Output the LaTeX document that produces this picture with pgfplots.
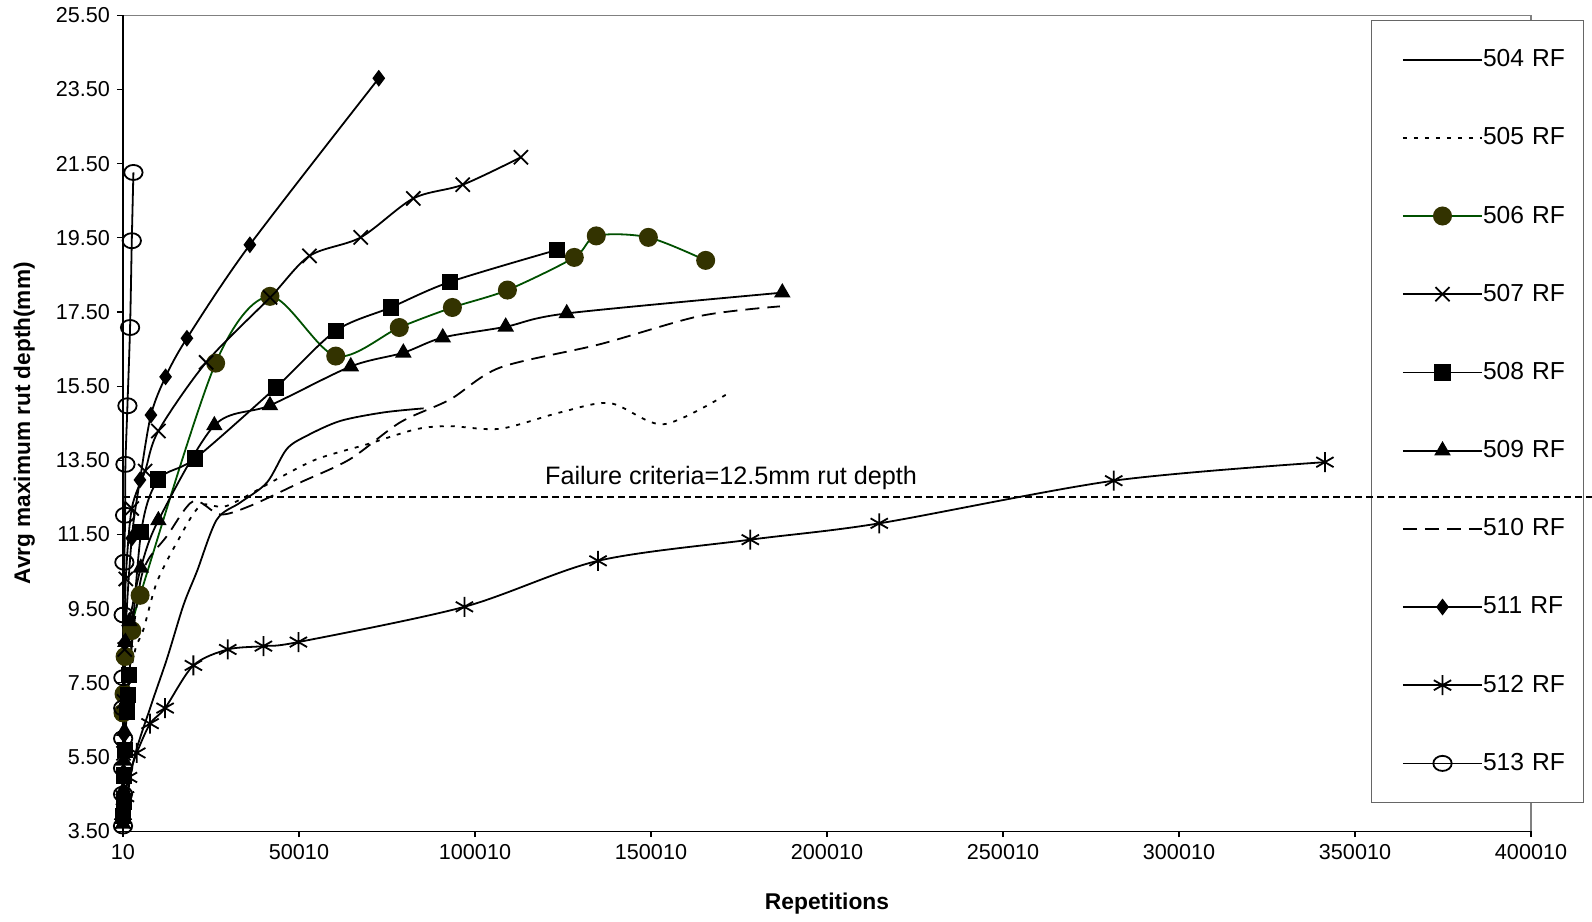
\documentclass[border=0pt]{standalone}
\usepackage{pgfplots}
\pgfplotsset{compat=1.18}
\usepackage{fontspec}
\setmainfont{Liberation Sans}
\definecolor{olivefill}{RGB}{51,51,0}
\definecolor{greenline}{RGB}{0,80,0}

\begin{document}
\begin{tikzpicture}
\begin{axis}[
  name=main,
  scale only axis, width=704pt, height=408pt,
  xmin=10, xmax=400010, ymin=3.5, ymax=25.5,
  axis x line*=bottom, axis y line*=left,
  axis line style={black, line width=0.7pt, -},
  axis background/.style={draw=black!50, line width=0.6pt},
  tick align=outside, major tick length=3pt,
  tick style={black, line width=0.6pt},
  scaled x ticks=false, scaled y ticks=false,
  xtick={10,50010,100010,150010,200010,250010,300010,350010,400010},
  xticklabels={10,50010,100010,150010,200010,250010,300010,350010,400010},
  ytick={3.5,5.5,7.5,9.5,11.5,13.5,15.5,17.5,19.5,21.5,23.5,25.5},
  yticklabels={3.50,5.50,7.50,9.50,11.50,13.50,15.50,17.50,19.50,21.50,23.50,25.50},
  ticklabel style={font=\fontsize{10.8}{13}\selectfont},
  /pgf/number format/assume math mode=true,
  xlabel={Repetitions},
  ylabel={Avrg maximum rut depth(mm)},
  xlabel style={at={(axis description cs:0.5,-0.0885)}, anchor=center, font=\bfseries\fontsize{11.4}{13}\selectfont},
  ylabel style={at={(axis description cs:-0.070,0.5)}, anchor=center, font=\bfseries\fontsize{11.3}{13}\selectfont},
  legend style={at={(axis description cs:0.886,0.994)}, anchor=north west,
    draw=black!60, fill=white, inner xsep=0pt, inner ysep=0pt, row sep=0pt,
    font=\fontsize{12.3}{14}\selectfont,
    nodes={inner sep=0pt, minimum height=39.1pt, text width=50pt},
    /tikz/every even column/.append style={column sep=3.5pt}},
  legend cell align=left,
  legend image code/.code={%
    \path[draw=none, mark=none] (-16pt,0pt) -- (0pt,0pt);
    \draw[mark repeat=2,mark phase=2] plot coordinates {(0pt,0pt) (19.8pt,0pt) (39.6pt,0pt)};},
  every axis plot/.append style={smooth, line width=0.9pt},
]

% 504 RF
\addplot[black, no markers] coordinates {
 (10,3.6) (3000,5.4) (8000,6.9) (12500,8.15) (17200,9.6) (21000,10.5)
 (26650,11.9) (33300,12.36) (40900,12.9) (46500,13.8) (52200,14.16)
 (61700,14.56) (74000,14.79) (85400,14.9)};
\addlegendentry{504 RF}

% 505 RF
\addplot[black, no markers, dash pattern=on 2pt off 3.5pt] coordinates {
 (10,3.6) (500,5.5) (1500,7.3) (3500,8.4) (5820,8.94) (9580,10.2)
 (15290,11.28) (21920,12.27) (29470,12.27) (43690,12.99) (55030,13.53)
 (69280,13.93) (83400,14.34) (92930,14.42) (107140,14.35) (124180,14.79)
 (138380,15.04) (153490,14.47) (171500,15.28)};
\addlegendentry{505 RF}

% 506 RF
\addplot[greenline, mark=*, mark size=4.3pt,
  mark options={solid, fill=olivefill, draw=olivefill}] coordinates {
 (10,6.69) (300,7.2) (600,8.21) (2510,8.91) (4870,9.86) (26330,16.12)
 (41760,17.92) (60450,16.31) (78500,17.08) (93590,17.62) (109220,18.09)
 (128220,18.97) (134460,19.55) (149270,19.51) (165540,18.89)};
\addlegendentry{506 RF}

% 507 RF
\addplot[black, mark=x, mark size=5pt, mark options={solid}] coordinates {
 (10,4.4) (150,5.6) (300,7.0) (500,8.4) (800,10.3) (2500,12.2)
 (6290,13.21) (10060,14.29) (23630,16.14) (41800,17.89) (52980,19.01)
 (67550,19.51) (82480,20.56) (96530,20.93) (113050,21.67)};
\addlegendentry{507 RF}

% 508 RF
\addplot[black, mark=square*, mark size=3.6pt, mark options={solid}] coordinates {
 (10,3.9) (200,4.3) (300,5.0) (500,5.7) (1100,6.73) (1530,7.18) (1820,7.72)
 (5160,11.56) (10060,12.98) (20510,13.55) (43400,15.46) (60450,16.99)
 (76050,17.62) (92930,18.31) (123210,19.17)};
\addlegendentry{508 RF}

% 509 RF
\addplot[black, mark=triangle*, mark size=3.9pt, mark options={solid}] coordinates {
 (10,3.7) (100,4.6) (200,5.4) (400,6.2) (700,8.6) (1830,9.16) (5080,10.6)
 (10060,11.88) (25960,14.44) (41760,14.98) (64720,16.03) (79650,16.40)
 (90850,16.81) (108730,17.10) (126070,17.46) (187310,18.02)};
\addlegendentry{509 RF}

% 510 RF
\addplot[black, no markers, dash pattern=on 7pt off 4pt] coordinates {
 (10,3.6) (1000,6.5) (2500,8.5) (4880,10.2) (7230,10.83) (12430,11.45)
 (19990,12.40) (27600,12.04) (36110,12.27) (50330,12.9) (64490,13.53)
 (78700,14.52) (92930,15.14) (107140,16.0) (135550,16.63) (163900,17.39)
 (186640,17.65)};
\addlegendentry{510 RF}

% 511 RF
\addplot[black, mark=diamond*, mark size=3.5pt, mark options={solid}] coordinates {
 (10,3.9) (150,5.1) (300,6.1) (600,8.6) (2500,11.4) (4830,12.97)
 (7950,14.72) (12110,15.75) (18170,16.79) (36050,19.31) (72680,23.8)};
\addlegendentry{511 RF}

% 512 RF
\addplot[black, mark=asterisk, mark size=5pt, mark options={solid}] coordinates {
 (10,3.7) (700,4.43) (1560,4.95) (3920,5.61) (7700,6.40) (11970,6.82)
 (20010,7.97) (29770,8.40) (39900,8.49) (49840,8.60) (97000,9.55)
 (134970,10.79) (178230,11.36) (214850,11.80) (281470,12.95) (341460,13.45)};
\addlegendentry{512 RF}

% 513 RF
\addplot[black, mark=o, mark size=4.1pt, mark options={solid, xscale=1.12, yscale=0.92}] coordinates {
 (10,3.64) (20,4.5) (30,5.2) (50,6.0) (80,6.82) (120,7.64) (200,9.33)
 (400,10.75) (600,12.02) (700,13.39) (1270,14.97) (2020,17.08)
 (2510,19.42) (2970,21.26)};
\addlegendentry{513 RF}
\end{axis}

% failure criterion, drawn over the legend box
\begin{axis}[
  at={(main.south west)}, anchor=south west,
  scale only axis, width=704pt, height=408pt,
  xmin=10, xmax=400010, ymin=3.5, ymax=25.5,
  hide axis, clip=false,
]
\addplot[black, line width=0.9pt, dash pattern=on 3.5pt off 2pt] coordinates {(10,12.5) (417300,12.5)};
\node[font=\fontsize{12.6}{14}\selectfont] at (axis cs:172750,13.03) {Failure criteria=12.5mm rut depth};
\end{axis}

\pgfresetboundingbox
\path ([xshift=-61.5pt,yshift=-45.3pt]main.south west) rectangle ([xshift=30.5pt,yshift=7.6pt]main.north east);
\end{tikzpicture}
\end{document}
